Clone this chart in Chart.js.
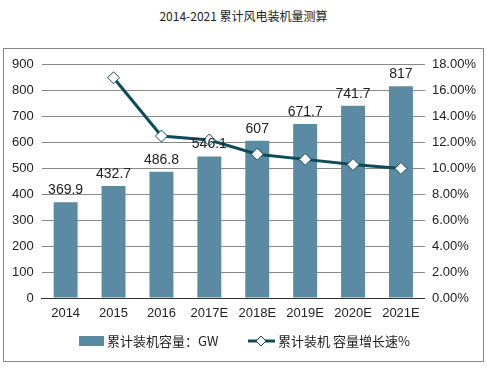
<!DOCTYPE html>
<html>
<head>
<meta charset="utf-8">
<script src="https://cdn.jsdelivr.net/npm/chart.js@4.4.1/dist/chart.umd.min.js"></script>
<style>
  body { margin: 0; background: #fff; }
  #title {
    position: absolute; left: 0; top: 7px; width: 487px; text-align: center;
    font: 12px "Noto Sans CJK SC", sans-serif; color: #222;
  }
  #box {
    position: absolute; left: 3px; top: 48px; width: 479px; height: 312px;
    border: 1px solid #888;
  }
</style>
</head>
<body>
<div id="title">2014-2021 累计风电装机量测算</div>
<div id="box"><canvas id="fengdian" width="479" height="312"></canvas></div>
<script>
var years = ["2014", "2015", "2016", "2017E", "2018E", "2019E", "2020E", "2021E"];
var capacity = [369.9, 432.7, 486.8, 546.1, 607, 671.7, 741.7, 817];
var growth = [null, 17.0, 12.5, 12.2, 11.1, 10.7, 10.3, 10.0];
var leftTicks = [0, 100, 200, 300, 400, 500, 600, 700, 800, 900];
var rightTicks = [0, 2, 4, 6, 8, 10, 12, 14, 16, 18];

var barColor = "#5b8ba3";
var lineColor = "#0e4b5b";

// numbers above the bars
var barLabels = {
    id: 'barLabels',
    afterDatasetsDraw: function(chart) {
        var ctx = chart.ctx;
        var meta = chart.getDatasetMeta(1);
        ctx.save();
        ctx.font = '14px "Liberation Sans", Arial, sans-serif';
        ctx.fillStyle = '#222';
        ctx.textAlign = 'center';
        ctx.textBaseline = 'bottom';
        meta.data.forEach(function(bar, i) {
            ctx.fillText(String(capacity[i]), bar.x, bar.y - 5);
        });
        ctx.restore();
    }
};

// legend drawn by hand, bar box + line with diamond
var ownLegend = {
    id: 'ownLegend',
    afterDraw: function(chart) {
        var ctx = chart.ctx;
        var y = 292;
        ctx.save();
        ctx.font = '13px "Noto Sans CJK SC", sans-serif';
        ctx.textBaseline = 'middle';
        ctx.fillStyle = barColor;
        ctx.fillRect(75, y - 5, 25, 10);
        ctx.fillStyle = '#222';
        ctx.fillText('累计装机容量：GW', 103, y);

        ctx.strokeStyle = lineColor;
        ctx.lineWidth = 3;
        ctx.beginPath();
        ctx.moveTo(244, y);
        ctx.lineTo(271, y);
        ctx.stroke();
        ctx.fillStyle = '#fff';
        ctx.lineWidth = 1;
        ctx.beginPath();
        ctx.moveTo(257, y - 5);
        ctx.lineTo(262, y);
        ctx.lineTo(257, y + 5);
        ctx.lineTo(252, y);
        ctx.closePath();
        ctx.fill();
        ctx.stroke();
        ctx.fillStyle = '#222';
        ctx.fillText('累计装机 容量增长速%', 274, y);
        ctx.restore();
    }
};

var el = document.getElementById("fengdian");
var myChart = new Chart(el, {
    data: {
        labels: years,
        datasets: [{
            type: 'line',
            label: '累计装机 容量增长速%',
            data: growth,
            yAxisID: 'y2',
            borderColor: lineColor,
            borderWidth: 3,
            pointStyle: 'rectRot',
            pointRadius: 6,
            pointBackgroundColor: '#fff',
            pointBorderColor: lineColor,
            pointBorderWidth: 1,
            tension: 0,
            order: 0
        }, {
            type: 'bar',
            label: '累计装机容量：GW',
            data: capacity,
            yAxisID: 'y',
            backgroundColor: barColor,
            barPercentage: 0.5,
            categoryPercentage: 1,
            order: 1
        }]
    },
    options: {
        responsive: false,
        animation: false,
        layout: { padding: { left: 0, right: 0, top: 0, bottom: 0 } },
        plugins: {
            legend: { display: false },
            tooltip: { enabled: false }
        },
        scales: {
            x: {
                grid: { display: false },
                border: { display: true, color: '#333', width: 1 },
                ticks: { color: '#222', font: { size: 13, family: '"Liberation Sans", Arial' }, padding: 0 },
                // room under the axis for the tick labels and the legend
                afterFit: function(axis) { axis.height = 63; }
            },
            y: {
                position: 'left',
                min: 0, max: 900,
                afterBuildTicks: function(axis) {
                    axis.ticks = leftTicks.map(function(v) { return { value: v }; });
                },
                grid: { color: '#888', drawTicks: false },
                border: { display: false },
                ticks: { color: '#222', font: { size: 13, family: '"Liberation Sans", Arial' }, padding: 8 }
            },
            y2: {
                position: 'right',
                min: 0, max: 18,
                afterBuildTicks: function(axis) {
                    axis.ticks = rightTicks.map(function(v) { return { value: v }; });
                },
                grid: { display: false, drawTicks: false },
                border: { display: false },
                ticks: {
                    color: '#222', font: { size: 13, family: '"Liberation Sans", Arial' }, padding: 7,
                    callback: function(v) { return v.toFixed(2) + '%'; }
                }
            }
        }
    },
    plugins: [barLabels, ownLegend]
});
</script>
</body>
</html>
